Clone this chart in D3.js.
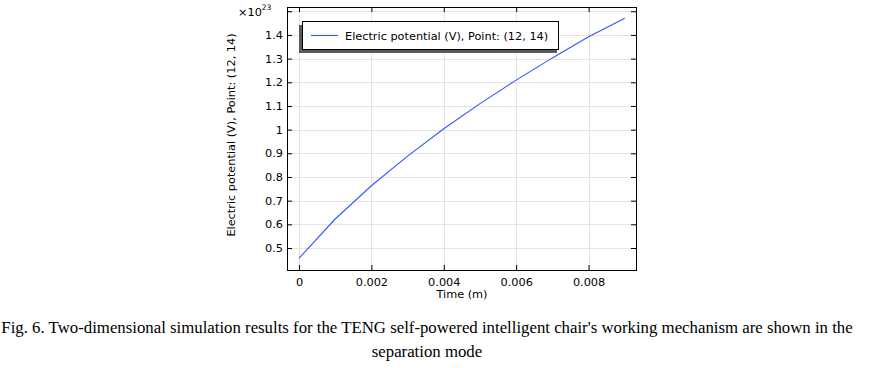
<!DOCTYPE html>
<html><head><meta charset="utf-8">
<script src="https://cdn.jsdelivr.net/npm/d3@7"></script>
<style>
html,body{margin:0;padding:0;background:#fff;}
svg{display:block;}
</style></head>
<body>
<svg id="chart" width="871" height="368"></svg>
<script>
// Data (values in units of 1e23 V)
const timeValues = [0, 0.001, 0.002, 0.003, 0.004, 0.005, 0.006, 0.007, 0.008, 0.009];
const potentialValues = [0.4565, 0.6225, 0.763, 0.888, 1.004, 1.110, 1.209, 1.303, 1.392, 1.4705];
const xTickValues = [0, 0.002, 0.004, 0.006, 0.008];
const xTickLabels = ["0", "0.002", "0.004", "0.006", "0.008"];
const yTickValues = [0.5, 0.6, 0.7, 0.8, 0.9, 1.0, 1.1, 1.2, 1.3, 1.4, 1.5];
const yTickLabels = ["0.5", "0.6", "0.7", "0.8", "0.9", "1", "1.1", "1.2", "1.3", "1.4", ""];
const seriesName = "Electric potential (V), Point: (12, 14)";
const xLabel = "Time (m)";
const yLabel = "Electric potential (V), Point: (12, 14)";
const exponentLabel = "23";
const captionLines = [
  "Fig. 6. Two-dimensional simulation results for the TENG self-powered intelligent chair's working mechanism are shown in the",
  "separation mode"
];

const svg = d3.select("#chart");
const L = 287, R = 636, T = 7, B = 270;
const x = d3.scaleLinear().domain([-0.000331, 0.00931]).range([L, R]);
const y = d3.scaleLinear().domain([0.4071, 1.518]).range([B, T]);
const font = "'DejaVu Sans', sans-serif";
const fs = "11.3px";

// grid
const g = svg.append("g");
g.selectAll(".gx").data(xTickValues).enter().append("line")
  .attr("x1", d => Math.round(x(d)) + 0.5).attr("x2", d => Math.round(x(d)) + 0.5)
  .attr("y1", T).attr("y2", B).attr("stroke", "#e4e4e4").attr("stroke-width", 1);
g.selectAll(".gy").data(yTickValues).enter().append("line")
  .attr("y1", d => Math.round(y(d)) + 0.5).attr("y2", d => Math.round(y(d)) + 0.5)
  .attr("x1", L).attr("x2", R).attr("stroke", "#e4e4e4").attr("stroke-width", 1);

// axes with inward ticks
const tickLen = 5;
const axB = d3.axisBottom(x).tickValues(xTickValues).tickSize(-tickLen).tickPadding(8)
  .tickFormat((d, i) => xTickLabels[i]);
const axT = d3.axisTop(x).tickValues(xTickValues).tickSize(-tickLen).tickFormat("");
const axL = d3.axisLeft(y).tickValues(yTickValues).tickSize(-tickLen).tickPadding(4)
  .tickFormat((d, i) => yTickLabels[i]);
const axR = d3.axisRight(y).tickValues(yTickValues).tickSize(-tickLen).tickFormat("");

function style(sel) {
  sel.select(".domain").remove();
  sel.selectAll("line").attr("stroke", "#000");
  sel.selectAll("text").style("font-family", font).style("font-size", fs).attr("fill", "#000");
}
svg.append("g").attr("transform", `translate(0,${B})`).call(axB).call(style);
svg.append("g").attr("transform", `translate(0,${T})`).call(axT).call(style);
svg.append("g").attr("transform", `translate(${L},0)`).call(axL).call(style);
svg.append("g").attr("transform", `translate(${R},0)`).call(axR).call(style);

// frame
svg.append("rect").attr("x", L + 0.5).attr("y", T + 0.5).attr("width", R - L).attr("height", B - T)
  .attr("fill", "none").attr("stroke", "#000").attr("stroke-width", 1);

// line
const data = timeValues.map((t, i) => [t, potentialValues[i]]);
svg.append("path").datum(data)
  .attr("d", d3.line().x(d => x(d[0])).y(d => y(d[1])))
  .attr("fill", "none").attr("stroke", "#3355ff").attr("stroke-width", 1.1);

// exponent label
const ex = svg.append("text").attr("x", 238).attr("y", 16)
  .style("font-family", font).style("font-size", fs).attr("fill", "#000");
ex.append("tspan").text("×10");
ex.append("tspan").attr("dy", -6).style("font-size", "7.5px").text(exponentLabel);

// axis labels
svg.append("text").attr("x", 462).attr("y", 298).attr("text-anchor", "middle")
  .style("font-family", font).style("font-size", fs).text(xLabel);
svg.append("text").attr("transform", "translate(235,135) rotate(-90)").attr("text-anchor", "middle")
  .style("font-family", font).style("font-size", fs).text(yLabel);

// legend
const lg = svg.append("g");
lg.append("rect").attr("x", 299).attr("y", 25).attr("width", 258).attr("height", 28).attr("fill", "#5a5a5a");
lg.append("rect").attr("x", 302.5).attr("y", 21.5).attr("width", 256).attr("height", 28)
  .attr("fill", "#fff").attr("stroke", "#000").attr("stroke-width", 1);
lg.append("line").attr("x1", 311).attr("x2", 338).attr("y1", 35.5).attr("y2", 35.5)
  .attr("stroke", "#3355ff").attr("stroke-width", 1.1);
lg.append("text").attr("x", 345).attr("y", 39.5).style("font-family", font).style("font-size", fs)
  .text(seriesName);

// caption
svg.selectAll(".cap").data(captionLines).enter().append("text")
  .attr("x", 427).attr("y", (d, i) => 333 + i * 24).attr("text-anchor", "middle")
  .style("font-family", "'Liberation Serif', 'Times New Roman', serif").style("font-size", "16.8px")
  .attr("fill", "#000").text(d => d);
</script>
</body></html>
